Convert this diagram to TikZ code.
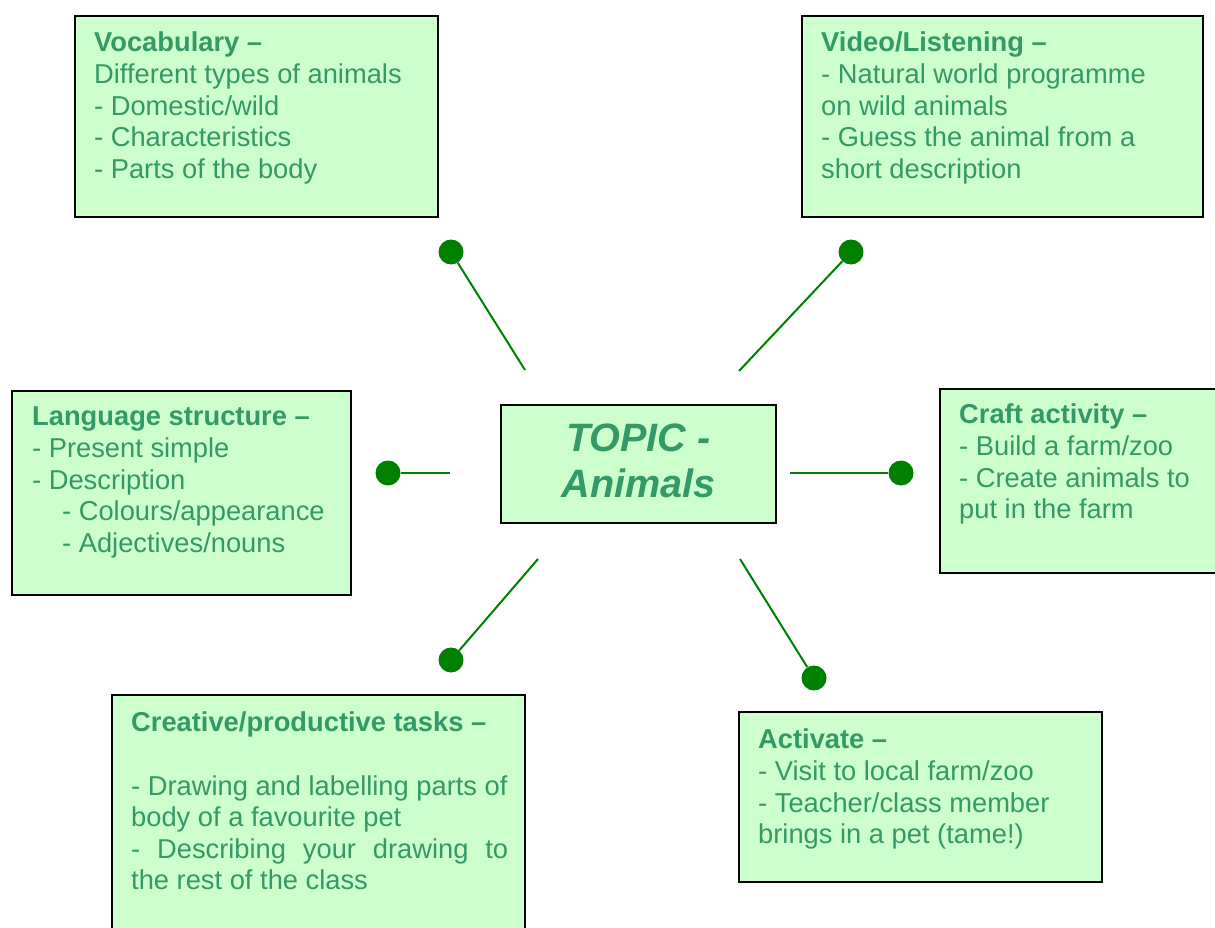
\documentclass[tikz,border=0pt]{standalone}
\usepackage{fontspec}
\setmainfont{Liberation Sans}
\definecolor{boxfill}{RGB}{204,255,204}
\definecolor{txt}{RGB}{51,153,102}
\definecolor{lnk}{RGB}{0,128,0}
\begin{document}
\begin{tikzpicture}[x=1pt,y=-1pt,
  box/.style={draw=black, line width=1.5pt, fill=boxfill, anchor=north west, inner sep=0pt, outer sep=0pt},
  body/.style={anchor=north west, inner sep=0pt, text=txt, font=\fontsize{27.3}{31.6}\selectfont, align=left},
  dot/.style={circle, fill=lnk, inner sep=0pt, minimum size=25pt},
  link/.style={draw=lnk, line width=2pt}]
\useasboundingbox (0,0) rectangle (1215,928);

% boxes
\node[box, minimum width=363pt, minimum height=201pt] (vocabbox) at (75,16) {};
\node[box, minimum width=401pt, minimum height=201pt] (videobox) at (802,16) {};
\node[box, minimum width=339pt, minimum height=204pt] (langbox) at (12,391) {};
\node[box, minimum width=290pt, minimum height=184pt] (craftbox) at (940,389) {};
\node[box, minimum width=275pt, minimum height=118pt] (topicbox) at (501,405) {};
\node[box, minimum width=413pt, minimum height=250pt] (creabox) at (112,695) {};
\node[box, minimum width=363pt, minimum height=170pt] (actbox) at (739,712) {};

% texts
\node[body] (vocabtxt) at (94,32) {\textbf{Vocabulary –}\\
Different types of animals\\
- Domestic/wild\\
- Characteristics\\
- Parts of the body};

\node[body] (videotxt) at (821,32) {\textbf{Video/Listening –}\\
- Natural world programme\\
on wild animals\\
- Guess the animal from a\\
short description};

\node[body] (langtxt) at (32,407) {\textbf{Language structure –}\\
- Present simple\\
- Description\\
\hspace*{30pt}- Colours/appearance\\
\hspace*{30pt}- Adjectives/nouns};

\node[body] (crafttxt) at (959,404) {\textbf{Craft activity –}\\
- Build a farm/zoo\\
- Create animals to\\
put in the farm};

\node[body, text width=377pt, align=justify] (creatxt) at (131,712) {\textbf{Creative/productive tasks –}\\[31.6pt]
- Drawing and labelling parts of\\
body of a favourite pet\\
- Describing your drawing to\linebreak
the rest of the class};

\node[body] (acttxt) at (758,729) {\textbf{Activate –}\\
- Visit to local farm/zoo\\
- Teacher/class member\\
brings in a pet (tame!)};

\node[inner sep=0pt, text=txt, align=center, font=\bfseries\itshape\fontsize{39.6}{46}\selectfont] (topictxt) at (638.5,461) {TOPIC -\\Animals};

% connectors
\coordinate (vocabend) at (525,370);
\node[dot] (vocabdot) at (451,252) {};
\draw[link] (vocabend) -- (vocabdot);

\coordinate (videoend) at (739,371);
\node[dot] (videodot) at (851,252) {};
\draw[link] (videoend) -- (videodot);

\coordinate (langend) at (450,473);
\node[dot] (langdot) at (388,473) {};
\draw[link] (langend) -- (langdot);

\coordinate (craftend) at (790,473);
\node[dot] (craftdot) at (901,473) {};
\draw[link] (craftend) -- (craftdot);

\coordinate (creaend) at (538,559);
\node[dot] (creadot) at (451,660) {};
\draw[link] (creaend) -- (creadot);

\coordinate (actend) at (740,559);
\node[dot] (actdot) at (814,678) {};
\draw[link] (actend) -- (actdot);
\end{tikzpicture}
\end{document}
